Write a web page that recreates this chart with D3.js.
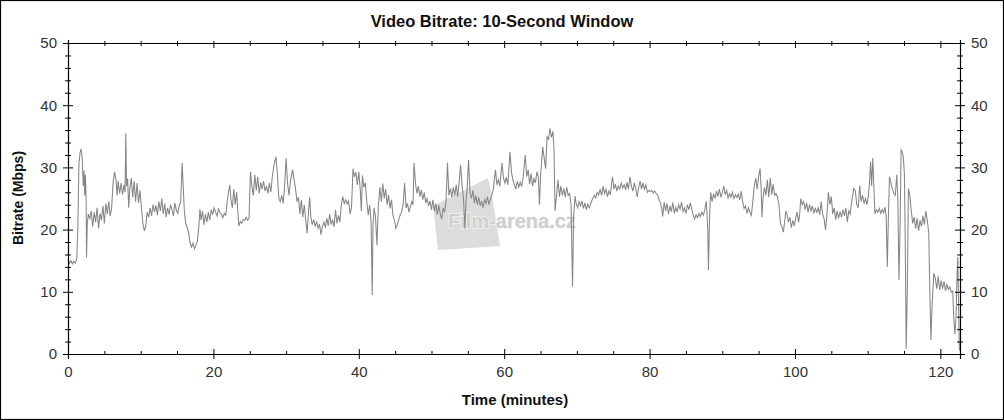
<!DOCTYPE html>
<html><head><meta charset="utf-8">
<script src="https://cdn.jsdelivr.net/npm/d3@7"></script>
<style>html,body{margin:0;padding:0;background:#fff}</style>
</head><body>
<svg id="c" width="1004" height="420"></svg>
<script>
const title = "Video Bitrate: 10-Second Window";
const xLabel = "Time (minutes)";
const yLabel = "Bitrate (Mbps)";
const watermark = "Film-arena.cz";
const xTickValues = [0, 20, 40, 60, 80, 100, 120];
const xMinorTicks = [5, 10, 15, 25, 30, 35, 45, 50, 55, 65, 70, 75, 85, 90, 95, 105, 110, 115];
const yTickValues = [0, 10, 20, 30, 40, 50];
const yMinorTicks = [2, 4, 6, 8, 12, 14, 16, 18, 22, 24, 26, 28, 32, 34, 36, 38, 42, 44, 46, 48];

const minutes = [
0.0,0.2,0.4,0.6,0.8,1.0,1.2,1.35,1.5,1.65,1.8,1.95,2.1,2.2,2.3,2.4,2.5,2.55,2.65,2.8,
3.0,3.2,3.4,3.6,3.8,4.0,4.2,4.4,4.6,4.8,5.0,5.2,5.4,5.6,5.8,6.0,6.2,6.4,6.6,6.75,
6.9,7.1,7.3,7.5,7.7,7.85,7.95,8.05,8.2,8.35,8.5,8.7,8.9,9.1,9.3,9.5,9.7,9.9,10.1,10.3,
10.5,10.7,10.9,11.1,11.3,11.5,11.7,11.9,12.1,12.3,12.5,12.7,12.9,13.1,13.3,13.5,13.7,13.9,14.1,14.3,
14.5,14.7,14.9,15.1,15.3,15.5,15.7,15.85,16.0,16.2,16.4,16.6,16.8,17.0,17.2,17.4,17.6,17.8,18.0,18.15,
18.3,18.5,18.7,18.9,19.1,19.3,19.5,19.7,19.9,20.1,20.3,20.5,20.7,20.9,21.1,21.3,21.5,21.7,21.9,22.1,
22.25,22.4,22.6,22.8,23.0,23.2,23.35,23.5,23.7,23.9,24.1,24.3,24.5,24.7,24.9,25.1,25.3,25.5,25.7,25.9,
26.1,26.3,26.5,26.7,26.9,27.1,27.3,27.5,27.7,27.9,28.1,28.35,28.6,28.8,29.0,29.2,29.4,29.6,29.8,30.0,
30.2,30.4,30.6,30.9,31.1,31.3,31.5,31.7,31.9,32.1,32.3,32.5,32.7,32.9,33.1,33.25,33.4,33.6,33.8,34.0,
34.2,34.4,34.6,34.8,35.0,35.2,35.4,35.6,35.8,36.0,36.2,36.4,36.6,36.8,37.0,37.2,37.4,37.6,37.8,38.0,
38.2,38.4,38.6,38.8,39.0,39.2,39.4,39.6,39.8,40.0,40.2,40.35,40.5,40.7,40.9,41.1,41.3,41.5,41.7,41.85,
41.95,42.1,42.3,42.5,42.7,42.9,43.1,43.3,43.5,43.7,43.9,44.1,44.3,44.5,44.7,44.9,45.1,45.3,45.5,45.7,
45.9,46.1,46.3,46.5,46.7,46.9,47.1,47.3,47.45,47.6,47.8,48.0,48.2,48.4,48.6,48.8,49.0,49.2,49.4,49.6,
49.8,50.0,50.2,50.4,50.6,50.8,51.0,51.2,51.4,51.6,51.8,52.0,52.2,52.4,52.6,52.8,53.0,53.2,53.4,53.6,
53.8,54.0,54.2,54.4,54.6,54.75,54.9,55.1,55.3,55.5,55.7,55.9,56.1,56.3,56.5,56.7,56.9,57.1,57.3,57.5,
57.7,57.9,58.1,58.3,58.5,58.8,59.0,59.2,59.4,59.7,59.9,60.1,60.3,60.5,60.8,61.0,61.2,61.4,61.6,61.8,
62.0,62.2,62.4,62.6,62.9,63.1,63.3,63.5,63.7,63.9,64.1,64.3,64.5,64.7,64.85,65.0,65.3,65.5,65.7,65.9,
66.1,66.3,66.5,66.7,66.85,67.0,67.2,67.4,67.6,67.8,68.0,68.2,68.4,68.6,68.8,69.0,69.2,69.4,69.55,69.75,
69.9,70.1,70.3,70.5,70.7,70.9,71.1,71.3,71.5,71.7,71.9,72.1,72.4,72.6,72.8,73.0,73.2,73.4,73.6,73.8,
74.0,74.2,74.4,74.6,74.9,75.1,75.3,75.5,75.7,75.9,76.1,76.3,76.5,76.7,76.9,77.1,77.3,77.5,77.7,77.9,
78.1,78.3,78.5,78.7,78.9,79.1,79.3,79.5,79.7,79.9,80.1,80.3,80.5,80.7,80.9,81.1,81.3,81.5,81.7,81.8,
82.0,82.2,82.4,82.6,82.8,83.0,83.2,83.4,83.6,83.8,84.0,84.2,84.4,84.6,84.8,85.0,85.2,85.4,85.6,85.8,
86.0,86.2,86.4,86.6,86.8,87.0,87.2,87.4,87.6,87.8,88.0,88.1,88.25,88.4,88.6,88.8,89.0,89.2,89.4,89.6,
89.8,90.0,90.2,90.4,90.6,90.8,91.0,91.2,91.4,91.6,91.8,92.0,92.2,92.4,92.6,92.8,93.0,93.2,93.4,93.6,
93.8,94.0,94.2,94.4,94.6,94.8,95.0,95.2,95.35,95.45,95.6,95.8,96.0,96.2,96.4,96.6,96.8,97.0,97.2,97.4,
97.6,97.8,98.0,98.2,98.4,98.6,98.75,98.9,99.1,99.3,99.5,99.7,99.9,100.1,100.3,100.5,100.65,100.8,101.0,101.2,
101.4,101.6,101.8,102.0,102.2,102.4,102.6,102.8,103.0,103.2,103.4,103.6,103.8,104.0,104.2,104.4,104.6,104.8,105.0,105.2,
105.4,105.6,105.8,106.0,106.2,106.4,106.6,106.8,107.0,107.2,107.4,107.6,107.8,108.1,108.3,108.5,108.7,108.9,109.1,109.3,
109.5,109.7,109.9,110.1,110.25,110.4,110.55,110.7,110.85,111.0,111.2,111.4,111.6,111.8,112.0,112.2,112.4,112.55,112.7,112.85,
113.0,113.2,113.4,113.6,113.8,114.0,114.15,114.3,114.45,114.6,114.75,114.9,115.05,115.15,115.3,115.45,115.6,115.8,116.0,116.2,
116.4,116.6,116.8,117.0,117.2,117.4,117.6,117.8,118.0,118.2,118.4,118.55,118.7,118.85,119.1,119.3,119.5,119.7,119.9,120.1,
120.3,120.5,120.7,120.9,121.1,121.3,121.5,121.7,121.85,122.0,122.15,122.3,122.4,122.5,122.6,122.7
];
const bitrate = [
15.2,14.6,15.0,14.5,14.9,14.6,15.3,20,30.5,32.3,33.0,31.5,27,29.5,25.5,28.8,24.5,15.5,21,22.5,
21.8,23,20.5,22.8,21.2,23.5,20.2,22.6,21.5,23.8,21,24.2,22.5,24.5,22.2,23.5,27.5,29.3,28,25.5,
27.8,25.8,27.5,25.6,27.2,26.0,35.5,27,28.2,23.5,26.5,28.3,25.2,27.8,24.5,27.5,24.3,26.3,23.5,21,
19.8,20.6,22.8,22,23.5,22.2,24,22.8,23.9,22.3,24.5,23,25,22.5,24.2,22,23.5,22.4,24,23.2,
22.2,24.3,23.1,22.6,23.8,24.5,30.7,27,23,21,20.3,19.5,17.8,17.2,17.8,16.9,17.5,18.2,20.5,23.3,
21.5,23,20.8,22.5,21.2,22.8,21.5,23.2,22.4,23.5,22.8,22.2,23.3,22.7,22.5,21.9,22.6,22.3,24.5,26.2,
27.2,25,23.5,26.5,24,26,23.2,20.6,21.3,21,21.6,21.5,22,21.5,21.8,29.3,27,25.5,28.8,26.3,
28.5,25.8,27.6,26.5,27.8,26.2,27,25.8,27.5,26,28.5,30.5,31.7,29,25,24.5,25.5,24.2,27,31.5,
27.5,25.5,27.8,29.6,28,26.5,24.5,25.2,22.5,24.8,22,24,21.5,19.4,23.2,25.2,22,20.8,21.6,20.5,
21.3,20.2,20.9,19.2,20.5,21.2,20.3,21.8,20.6,22.5,20.8,21.6,20.4,23.2,21,22.3,21.2,24,25.3,24.2,
24.8,24.1,24.6,22.5,23.5,29.8,28.5,29.2,27.2,29.3,26.5,23,28.7,26.8,27.5,24.5,22.3,24,21,9.5,
20.5,23.5,22,17.5,24,26.8,24.5,27.4,25,26.5,24,25.6,23.4,24.8,22.3,21.5,20.2,20.8,21.6,22.4,
22.8,24,27.5,23.5,24.2,22.8,23.7,24.5,24,30.7,27.5,25.8,27,25.3,26.4,24.8,26,24.3,25,23.8,
24.6,23.2,24.8,23,24.2,22.4,23.9,22.6,21.7,23.5,22.8,24.5,30.7,25.5,26.6,25.2,26.8,25.5,27.2,25.3,
27.5,30.4,27.2,25,20.2,24.5,26.5,31.2,26,25,26.3,24.3,25.5,24,25.2,23.8,24.6,23.5,24.8,24.2,
25.3,24,24.8,25.5,26.5,29.6,27.2,28,27,30.7,28.3,27.5,28.4,27.2,32.5,29.2,28,27.2,26.5,27.8,
26.8,27.6,26.9,28.3,32,28.5,29.6,27.3,29,27,28.2,27.5,29.3,28.5,24,28.5,33.3,31.5,29.8,35,
34.4,36.3,34.8,35.8,33,23,25.5,28,25.3,27,25.5,26.6,25.2,26.8,25.5,25.8,24,10.8,22,25.4,
24.2,23.5,24.5,23.8,24.6,23.4,24.3,23.2,24.1,23.5,24.2,24.8,25.5,25.1,26,25.6,26.5,25.5,27,25.8,
26.5,25.3,26.2,25.6,28.5,26.5,27.3,26.2,27,26.5,27.5,26.7,27.2,26.4,27.6,26.5,28.5,27,26.2,27.5,
26.6,25.2,26.8,27.8,26.5,27.5,26.5,27.2,26,26.3,26.1,26.3,25.9,26.2,25.8,25.6,24.8,24.3,23.2,22.1,
24.4,23,24.2,22.5,23.8,22.9,24.4,22.6,23.6,22.8,24,23.3,24.4,22.9,23.5,22.6,24,23.2,24.3,23.3,
22.3,21.7,22.4,21.9,22.6,22.1,22.8,22.3,23.2,24.6,20,13.5,22,26,24.5,25.8,25,26.2,25.3,26.5,
25.2,26,27,25.6,26.3,25.1,25.8,25.2,26,25,25.6,25.2,25.7,24.8,26.2,24.5,23.4,23.8,22.6,23.5,
22.8,22.3,24.5,27,28.3,26.5,28.5,29.8,26.5,22,25,26.8,25.5,28,25.2,28.3,25.6,27.3,25.5,25.8,
25.2,24,21,20.5,19.6,21.5,23,22.5,21.2,22,20.3,21.5,20.6,21.8,22.8,21.2,22.5,25,24,24.5,
23.2,24.3,22.8,24,23,23.8,22.6,23.4,22.8,23.5,22.4,24.5,22.5,21.8,20,22.5,26,24,25.3,22.5,
23.5,21.6,23,21.8,22.9,22,23.2,22.2,23.5,21.2,23,22.5,24.5,26.6,26.2,24,23.5,27.1,24.5,25.5,
24.2,25,24,25.5,27.5,30.9,27,31.5,27,22.5,23.2,22.8,23.4,22.6,23.2,22.7,23.6,22,14,22,
28.5,27.5,26.5,25.8,25.5,28.8,25,11.9,20,32.8,32.5,31.7,29,20,0.9,10,26.6,25.5,23,21,
22,20.2,21.8,19.8,21.5,20.5,22.2,20.8,23,21.5,19.5,10,2.25,7.6,13,12.2,10.5,12.5,10.3,11.8,
10.5,11.7,10.2,11.2,10.4,10.8,9.9,10.1,5.5,3.2,6,13,15.6,8,1,0.5
];

const svg = d3.select("#c");
const W = 1004, H = 420;
const X0 = 68, X1 = 960, Y0 = 354, Y1 = 43;
const x = d3.scaleLinear().domain([0, 122.7]).range([X0, X1]);
const y = d3.scaleLinear().domain([0, 50]).range([Y0, Y1]);
const font = "'Liberation Sans', Arial, sans-serif";

svg.append("rect").attr("x", 0).attr("y", 0).attr("width", W).attr("height", H).attr("fill", "#fff");
svg.append("rect").attr("x", 0.5).attr("y", 0.5).attr("width", W - 1).attr("height", H - 1)
  .attr("fill", "none").attr("stroke", "#000").attr("stroke-width", 1.2);

// watermark
const wm = svg.append("g");
wm.append("path")
  .attr("d", "M433,206 L488,178 L492,196 L500,246 L438,250 Z")
  .attr("fill", "#dcdcdc");
wm.append("text").attr("x", 448).attr("y", 228).attr("font-family", font)
  .attr("font-weight", "bold").attr("font-size", 20).attr("fill", "#cfcfcf")
  .attr("stroke", "#f4f4f4").attr("stroke-width", 1.5).attr("paint-order", "stroke")
  .text(watermark);

// data line
const pts = minutes.map((t, i) => [t, bitrate[i]]);
svg.append("path").datum(pts)
  .attr("fill", "none").attr("stroke", "#858585").attr("stroke-width", 1.05)
  .attr("d", d3.line().x(d => x(d[0])).y(d => y(d[1])));

function styleAxis(g) {
  g.select(".domain").attr("stroke", "#000").attr("stroke-width", 1.2);
  g.selectAll("text").attr("font-family", font).attr("font-size", 15).attr("fill", "#333");
}

// bottom axis
const gb = svg.append("g").attr("transform", `translate(0,${Y0})`)
  .call(d3.axisBottom(x).tickValues(xTickValues).tickSize(5).tickPadding(7).tickFormat(d3.format("d")));
styleAxis(gb);
gb.selectAll(".tick line").attr("y1", -5).attr("y2", 5).attr("stroke", "#000");
const gbm = svg.append("g").attr("transform", `translate(0,${Y0})`)
  .call(d3.axisBottom(x).tickValues(xMinorTicks).tickSize(3).tickFormat(""));
gbm.select(".domain").remove();
gbm.selectAll(".tick line").attr("y1", -3).attr("y2", 1).attr("stroke", "#000");

// top axis (frame)
const gt = svg.append("g").attr("transform", `translate(0,${Y1})`)
  .call(d3.axisTop(x).tickValues(xTickValues.concat(xMinorTicks)).tickSize(3).tickFormat(""));
gt.select(".domain").attr("stroke", "#000").attr("stroke-width", 1.2);
gt.selectAll(".tick line").attr("y1", -2).attr("y2", d => xTickValues.includes(d) ? 5 : 3).attr("stroke", "#000");

// left axis
const gl = svg.append("g").attr("transform", `translate(${X0},0)`)
  .call(d3.axisLeft(y).tickValues(yTickValues).tickSize(5).tickPadding(6));
styleAxis(gl);
gl.selectAll(".tick line").attr("x1", -5).attr("x2", 5).attr("stroke", "#000");
const glm = svg.append("g").attr("transform", `translate(${X0},0)`)
  .call(d3.axisLeft(y).tickValues(yMinorTicks).tickSize(3).tickFormat(""));
glm.select(".domain").remove();
glm.selectAll(".tick line").attr("x1", -3).attr("x2", 3).attr("stroke", "#000");

// right axis
const gr = svg.append("g").attr("transform", `translate(${X1},0)`)
  .call(d3.axisRight(y).tickValues(yTickValues).tickSize(5).tickPadding(6));
styleAxis(gr);
gr.selectAll(".tick line").attr("x1", -5).attr("x2", 5).attr("stroke", "#000");
const grm = svg.append("g").attr("transform", `translate(${X1},0)`)
  .call(d3.axisRight(y).tickValues(yMinorTicks).tickSize(3).tickFormat(""));
grm.select(".domain").remove();
grm.selectAll(".tick line").attr("x1", -3).attr("x2", 3).attr("stroke", "#000");

// titles
svg.append("text").attr("x", 502).attr("y", 27).attr("text-anchor", "middle")
  .attr("font-family", font).attr("font-weight", "bold").attr("font-size", 16.5).attr("fill", "#111")
  .text(title);
svg.append("text").attr("x", 515).attr("y", 405).attr("text-anchor", "middle")
  .attr("font-family", font).attr("font-weight", "bold").attr("font-size", 15).attr("fill", "#111")
  .text(xLabel);
svg.append("text").attr("transform", "translate(23,198) rotate(-90)").attr("text-anchor", "middle")
  .attr("font-family", font).attr("font-weight", "bold").attr("font-size", 14).attr("fill", "#111")
  .text(yLabel);
</script>
</body></html>
